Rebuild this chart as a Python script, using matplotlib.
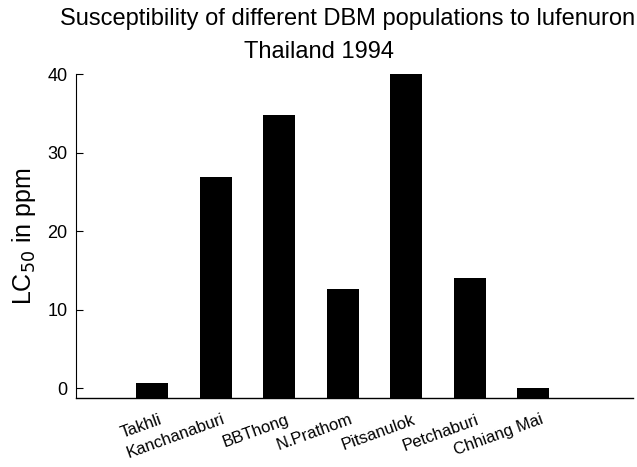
import matplotlib
matplotlib.use("Agg")
import matplotlib.pyplot as plt
import matplotlib.transforms as mtransforms
import numpy as np

# LC50 values (ppm) per DBM population
populations = ["Takhli", "Kanchanaburi", "BBThong", "N.Prathom",
               "Pitsanulok", "Petchaburi", "Chhiang Mai"]
lc50 = [0.7, 26.9, 34.8, 12.6, 40.0, 14.0, 0.0]
y_ticks = [0, 10, 20, 30, 40]

plt.rcParams["font.family"] = ["Liberation Sans", "DejaVu Sans"]

y_min, y_max = -1.25, 40
x = np.arange(len(populations))

fig = plt.figure(figsize=(6.37, 4.67), dpi=100)
ax = fig.add_axes([0.1193, 0.1478, 0.8744, 0.6937])

# bars start at the bottom of the axis, as in the printed chart
ax.bar(x, np.array(lc50) - y_min, bottom=y_min, width=0.5, color="black")

ax.set_xlim(-1.2, len(populations) - 1 + 1.57)
ax.set_ylim(y_min, y_max)
ax.set_yticks(y_ticks)
ax.set_yticklabels([str(t) for t in y_ticks], fontsize=13)
ax.tick_params(axis="y", direction="in", length=5, width=0.8, pad=6)
ax.set_xticks([])

for side in ["top", "right"]:
    ax.spines[side].set_visible(False)
ax.spines["left"].set_linewidth(0.8)
ax.spines["bottom"].set_linewidth(1.0)

# slanted population names under the bars
offset = mtransforms.ScaledTranslation(0, -10 / 72, fig.dpi_scale_trans)
trans = ax.transData + offset
for xi, name in zip(x, populations):
    ax.text(xi + 0.1, y_min, name, rotation=20, ha="right", va="top",
            rotation_mode="anchor", fontsize=12, transform=trans)

ax.set_ylabel("LC$_{50}$ in ppm", fontsize=18, labelpad=7)

fig.text(0.545, 0.982, "Susceptibility of different DBM populations to lufenuron",
         ha="center", va="top", fontsize=17)
fig.text(0.5, 0.912, "Thailand 1994", ha="center", va="top", fontsize=17)

fig.savefig("out.png", dpi=100)
plt.close()
